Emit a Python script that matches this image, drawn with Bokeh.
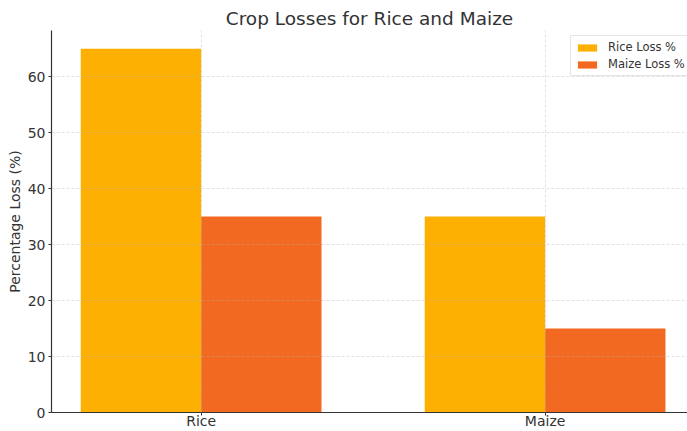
from bokeh.plotting import figure
from bokeh.models import ColumnDataSource, FixedTicker, Range1d, Legend, LegendItem
from bokeh.transform import dodge
from bokeh.embed import file_html
from bokeh.resources import INLINE

# Data
crops = ["Rice", "Maize"]
rice_loss = [65, 35]
maize_loss = [35, 15]
series_names = ["Rice Loss %", "Maize Loss %"]
y_ticks = [0, 10, 20, 30, 40, 50, 60]

colors = ["#FDB002", "#F26A21"]
bar_w = 0.35
FONT = "DejaVu Sans"
TEXT = "#333333"

src = ColumnDataSource(dict(
    pos=list(range(len(crops))),
    rice=rice_loss,
    maize=maize_loss,
))

p = figure(
    width=687, height=431,
    x_range=Range1d(-0.435, 1.414),
    y_range=Range1d(0, max(rice_loss + maize_loss) * 1.05),
    output_backend="svg", toolbar_location=None,
    min_border_left=51, min_border_right=0, min_border_top=30, min_border_bottom=18,
    title="Crop Losses for Rice and Maize",
)

r1 = p.vbar(x=dodge("pos", -bar_w / 2), top="rice", width=bar_w, source=src,
            fill_color=colors[0], line_color=None)
r2 = p.vbar(x=dodge("pos", bar_w / 2), top="maize", width=bar_w, source=src,
            fill_color=colors[1], line_color=None)

# Title
p.title.text_font = FONT
p.title.text_font_size = "18.5px"
p.title.text_font_style = "normal"
p.title.text_color = TEXT
p.title.align = "center"
p.title.standoff = 4

# Axes
p.xaxis.ticker = FixedTicker(ticks=list(range(len(crops))))
p.xaxis.major_label_overrides = {i: c for i, c in enumerate(crops)}
p.yaxis.ticker = FixedTicker(ticks=y_ticks)
p.yaxis.axis_label = "Percentage Loss (%)"
for ax in (p.xaxis, p.yaxis):
    ax.axis_line_color = "#333333"
    ax.axis_line_width = 1.2
    ax.major_tick_line_color = "#333333"
    ax.major_tick_out = 3
    ax.major_tick_in = 0
    ax.minor_tick_line_color = None
    ax.major_label_text_font = FONT
    ax.major_label_text_font_size = "14px"
    ax.major_label_text_color = TEXT
p.xaxis.major_label_standoff = -3
p.yaxis.major_label_standoff = 3
p.yaxis.axis_label_text_font = FONT
p.yaxis.axis_label_text_font_size = "14px"
p.yaxis.axis_label_text_font_style = "normal"
p.yaxis.axis_label_text_color = TEXT
p.yaxis.axis_label_standoff = 2

p.outline_line_color = None

# Dashed grid drawn over the bars
for g in (p.xgrid, p.ygrid):
    g.grid_line_color = "#b0b0b0"
    g.grid_line_dash = "3 2"
    g.grid_line_width = 0.7
    g.grid_line_alpha = 0.55
    g.level = "overlay"

# Legend anchored by its bottom-left corner, running off the right edge
legend = Legend(items=[LegendItem(label=series_names[0], renderers=[r1]),
                       LegendItem(label=series_names[1], renderers=[r2])],
                location=(519, 336))
legend.label_text_font = FONT
legend.label_text_font_size = "11.5px"
legend.label_text_color = TEXT
legend.glyph_width = 24
legend.glyph_height = 9
legend.label_height = 11
legend.label_standoff = 9
legend.spacing = 3
legend.padding = 4
legend.margin = 0
legend.border_line_color = "#cccccc"
legend.background_fill_alpha = 0.85
p.add_layout(legend)

open("out.html", "w").write(file_html(p, INLINE))
